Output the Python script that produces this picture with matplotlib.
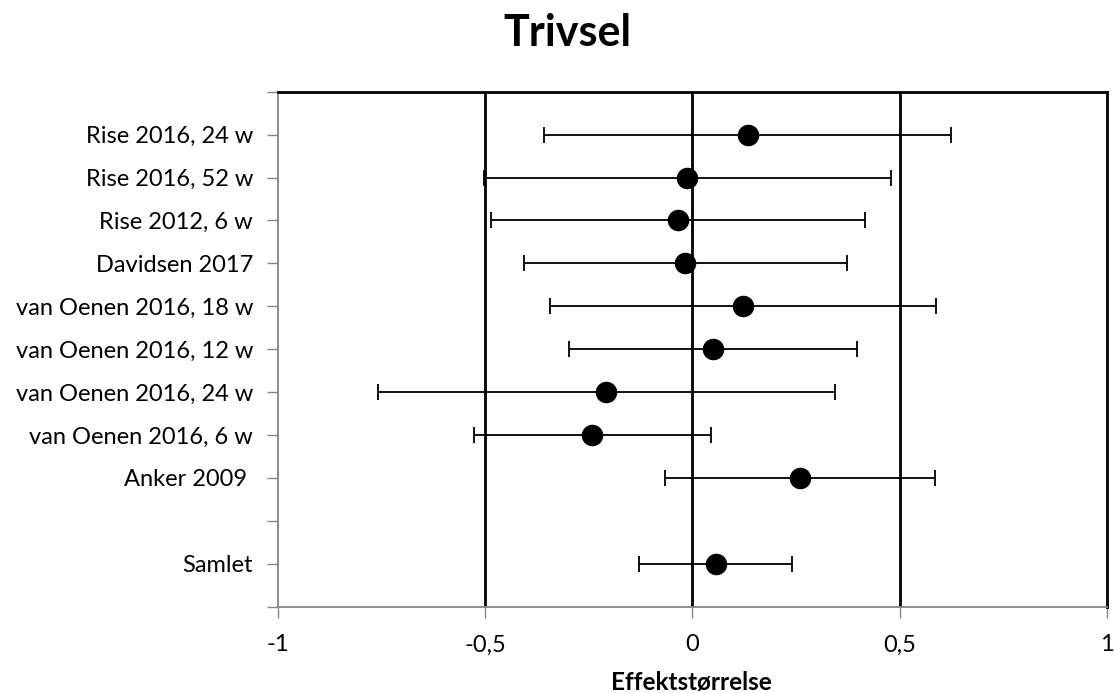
import numpy as np
import matplotlib.pyplot as plt

plt.rcParams['font.family'] = ['Lato', 'DejaVu Sans']

# studies, top to bottom
studies = ['Rise 2016, 24 w', 'Rise 2016, 52 w', 'Rise 2012, 6 w', 'Davidsen 2017',
           'van Oenen 2016, 18 w', 'van Oenen 2016, 12 w', 'van Oenen 2016, 24 w',
           'van Oenen 2016, 6 w', 'Anker 2009 ', '', 'Samlet']
effect = [0.133, -0.014, -0.034, -0.017, 0.121, 0.049, -0.208, -0.242, 0.260, None, 0.056]
lower = [-0.358, -0.504, -0.487, -0.406, -0.343, -0.298, -0.758, -0.528, -0.066, None, -0.129]
upper = [0.623, 0.479, 0.417, 0.372, 0.587, 0.397, 0.344, 0.045, 0.586, None, 0.241]

grey = '#868686'

fig = plt.figure(figsize=(11.15, 6.93), dpi=100)
ax = fig.add_axes([0.2493, 0.1245, 0.7435, 0.7432])

ypos = np.arange(len(studies), 0, -1)
for y, e, lo, hi in zip(ypos, effect, lower, upper):
    if e is None:
        continue
    ax.errorbar(e, y, xerr=[[e - lo], [hi - e]], fmt='o', color='black',
                ecolor='black', elinewidth=1.3, capsize=6, capthick=1.3,
                markersize=14.5, zorder=3)

for xv in [-0.5, 0, 0.5]:
    ax.axvline(xv, color='black', lw=2, zorder=1)

ax.set_xlim(-1, 1)
ax.set_ylim(0, 12)
ax.set_xticks([-1, -0.5, 0, 0.5, 1])
ax.set_xticklabels(['-1', '-0,5', '0', '0,5', '1'])
ax.set_yticks(np.arange(0, 13))
labels = [''] * 13
for y, s in zip(ypos, studies):
    labels[y] = s
ax.set_yticklabels(labels)

ax.tick_params(axis='both', colors=grey, length=8, width=1, labelsize=17,
               labelcolor='black')
ax.tick_params(axis='y', pad=10)
ax.tick_params(axis='x', pad=12)

ax.spines['left'].set_color(grey)
ax.spines['bottom'].set_color(grey)
ax.spines['left'].set_linewidth(1.3)
ax.spines['bottom'].set_linewidth(1.3)
ax.spines['top'].set_color('black')
ax.spines['right'].set_color('black')
ax.spines['top'].set_linewidth(2)
ax.spines['right'].set_linewidth(2)

fig.text(0.620, 0.004, 'Effektstørrelse', ha='center', va='baseline',
         fontsize=17.5, fontweight='bold')
fig.text(0.509, 0.934, 'Trivsel', ha='center', va='baseline', fontsize=31,
         fontweight='bold')

fig.savefig('out.png', dpi=100)
